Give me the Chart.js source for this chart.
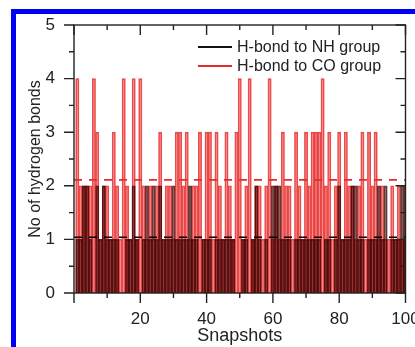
<!DOCTYPE html>
<html>
<head>
<meta charset="utf-8">
<script src="https://cdn.jsdelivr.net/npm/chart.js@4.4.1/dist/chart.umd.min.js"></script>
<style>
  html, body { margin: 0; padding: 0; background: #fff; }
  #wrap { position: relative; width: 415px; height: 347px; overflow: hidden; }
  #frame {
    position: absolute; left: 11px; top: 9px; width: 600px; height: 600px;
    border-left: 5px solid #0000f5; border-top: 5px solid #0000f5;
  }
  #chart { position: absolute; left: 0; top: 0; }
</style>
</head>
<body>
<div id="wrap">
  <div id="frame"></div>
  <canvas id="chart" width="415" height="347"></canvas>
</div>
<script>
// snapshot numbers 1..100
const snapshots = Array.from({ length: 100 }, (_, i) => i + 1);

// H-bonds to the CO group per snapshot
const coBonds = [
  4, 2, 2, 2, 2, 4, 3, 1, 2, 2,
  1, 3, 2, 1, 4, 2, 1, 4, 1, 4,
  2, 1, 2, 1, 2, 3, 1, 2, 2, 1,
  3, 3, 2, 3, 1, 2, 2, 3, 1, 3,
  3, 1, 3, 2, 1, 3, 2, 1, 3, 4,
  1, 2, 4, 1, 2, 2, 1, 2, 4, 1,
  2, 1, 3, 2, 2, 1, 3, 2, 1, 3,
  2, 3, 3, 3, 4, 2, 3, 1, 2, 3,
  1, 3, 2, 2, 1, 2, 3, 1, 3, 2,
  3, 1, 2, 1, 1, 2, 1, 2, 1, 1
];

// H-bonds to the NH group per snapshot
const nhBonds = [
  1, 1, 2, 2, 1, 0, 2, 1, 2, 1,
  1, 1, 1, 0, 0, 1, 1, 2, 1, 0,
  1, 2, 1, 2, 1, 2, 1, 1, 1, 2,
  1, 1, 1, 1, 2, 1, 1, 0, 1, 1,
  1, 0, 1, 1, 1, 1, 1, 1, 0, 0,
  1, 1, 0, 1, 2, 1, 0, 1, 0, 2,
  2, 2, 1, 1, 1, 0, 1, 1, 1, 1,
  1, 1, 1, 1, 0, 1, 1, 0, 1, 2,
  1, 1, 1, 2, 2, 1, 1, 0, 1, 1,
  1, 2, 1, 2, 0, 1, 1, 1, 2, 2
];

// average number of bonds (dashed lines)
const coMean = 2.11;
const nhMean = 1.04;

const xTicks = [20, 40, 60, 80, 100];
const yTicks = [0, 1, 2, 3, 4, 5];

const FONT = "'Liberation Sans', Arial, sans-serif";

const toPoints = vals => vals.map((v, i) => ({ x: snapshots[i], y: v }));
const flat = v => [{ x: 0, y: v }, { x: 100, y: v }];

// box around the plot with ticks: outward on left/bottom, inward on top/right
const framePlugin = {
  id: 'frame',
  afterDraw(chart) {
    const { ctx, chartArea: a, scales } = chart;
    ctx.save();
    ctx.strokeStyle = '#222';
    ctx.lineWidth = 1.4;
    ctx.strokeRect(a.left, a.top, a.right - a.left, a.bottom - a.top);
    ctx.beginPath();
    for (let v = 0; v <= 5; v += 0.5) {
      const y = scales.y.getPixelForValue(v);
      const len = Number.isInteger(v) ? 10 : 5;
      ctx.moveTo(a.left - len, y); ctx.lineTo(a.left, y);
      ctx.moveTo(a.right - len, y); ctx.lineTo(a.right, y);
    }
    for (let v = 0; v <= 100; v += 10) {
      const x = scales.x.getPixelForValue(v);
      const len = v % 20 === 0 ? 10 : 5;
      ctx.moveTo(x, a.bottom); ctx.lineTo(x, a.bottom + len);
      ctx.moveTo(x, a.top); ctx.lineTo(x, a.top + len);
    }
    ctx.stroke();

    // legend
    const rows = [
      { label: 'H-bond to NH group', color: '#111' },
      { label: 'H-bond to CO group', color: 'rgb(230,40,40)' }
    ];
    ctx.font = '16px ' + FONT;
    ctx.textBaseline = 'middle';
    ctx.textAlign = 'left';
    rows.forEach((r, i) => {
      const y = 47 + i * 19;
      ctx.strokeStyle = r.color;
      ctx.lineWidth = 2;
      ctx.beginPath();
      ctx.moveTo(198, y); ctx.lineTo(232, y);
      ctx.stroke();
      ctx.fillStyle = '#222';
      ctx.fillText(r.label, 237, y + 1);
    });
    ctx.restore();
  }
};

new Chart(document.getElementById('chart'), {
  type: 'bar',
  data: {
    datasets: [
      {
        label: 'H-bond to NH group',
        data: toPoints(nhBonds),
        backgroundColor: 'rgba(100,0,0,0.5)',
        borderColor: 'rgba(30,0,0,0.7)',
        borderWidth: 1,
        barPercentage: 1,
        categoryPercentage: 1,
        grouped: false,
        order: 1
      },
      {
        label: 'H-bond to CO group',
        data: toPoints(coBonds),
        backgroundColor: 'rgba(238,70,70,0.45)',
        borderColor: 'rgba(232,45,45,0.85)',
        borderWidth: 1,
        barPercentage: 1,
        categoryPercentage: 1,
        grouped: false,
        order: 2
      },
      {
        type: 'line',
        data: flat(nhMean),
        borderColor: '#000',
        borderWidth: 1.6,
        borderDash: [8, 7],
        pointRadius: 0,
        order: 0
      },
      {
        type: 'line',
        data: flat(coMean),
        borderColor: 'rgb(225,45,45)',
        borderWidth: 1.6,
        borderDash: [8, 7],
        pointRadius: 0,
        order: 0
      }
    ]
  },
  options: {
    responsive: false,
    animation: false,
    layout: { padding: { top: 25, right: 9.5, left: 0, bottom: 0 } },
    plugins: { legend: { display: false }, tooltip: { enabled: false } },
    scales: {
      x: {
        type: 'linear',
        min: 0,
        max: 100,
        offset: false,
        afterFit: s => { s.height = 54; s.paddingLeft = 0; s.paddingRight = 0; },
        afterBuildTicks: s => { s.ticks = xTicks.map(v => ({ value: v })); },
        grid: { display: false, drawTicks: false, offset: false },
        border: { display: false },
        ticks: { color: '#222', font: { family: FONT, size: 17 }, padding: 16, maxRotation: 0 },
        title: { display: true, text: 'Snapshots', color: '#222', font: { family: FONT, size: 18 }, padding: 0 }
      },
      y: {
        min: 0,
        max: 5,
        afterFit: s => { s.width = 74; s.paddingTop = 0; s.paddingBottom = 0; },
        afterBuildTicks: s => { s.ticks = yTicks.map(v => ({ value: v })); },
        grid: { display: false, drawTicks: false },
        border: { display: false },
        ticks: { color: '#222', font: { family: FONT, size: 17 }, padding: 19 },
        title: { display: true, text: 'No of hydrogen bonds', color: '#222', font: { family: FONT, size: 16 }, padding: { top: 26, bottom: 0 } }
      }
    }
  },
  plugins: [framePlugin]
});
</script>
</body>
</html>
